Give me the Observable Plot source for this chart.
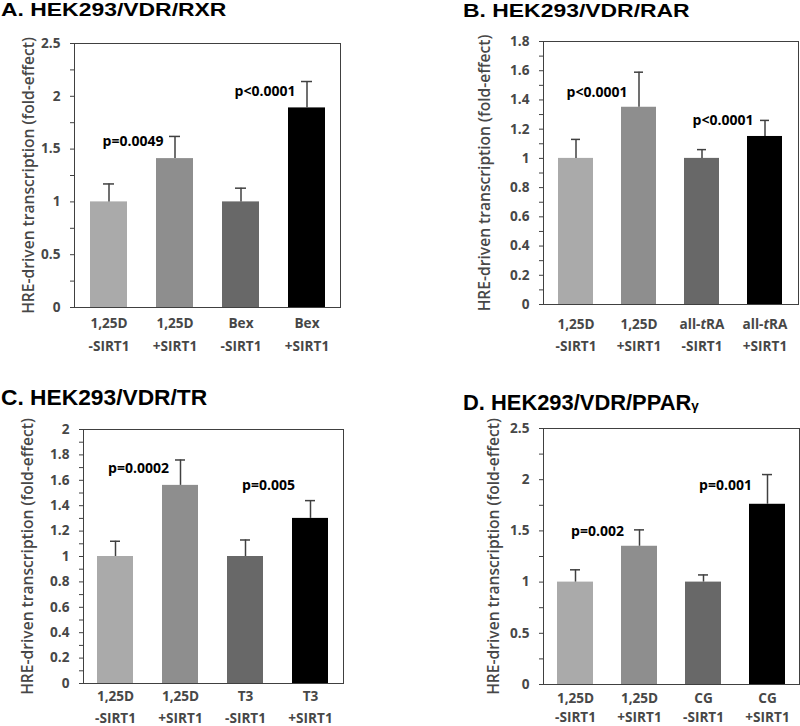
<!DOCTYPE html>
<html>
<head>
<meta charset="utf-8">
<script src="https://cdn.jsdelivr.net/npm/d3@7"></script>
<script src="https://cdn.jsdelivr.net/npm/@observablehq/plot@0.6"></script>
<style>
  html, body { margin: 0; padding: 0; background: #fff; }
  #root { position: relative; width: 800px; height: 726px; overflow: hidden; background: #fff; }
  .title { position: absolute; font-family: "Liberation Sans", Arial, sans-serif; font-weight: 700; color: #000; line-height: 1; white-space: nowrap; transform-origin: 0 0; }
  .panel { position: absolute; }
  .panel svg { overflow: visible; }
</style>
</head>
<body>
<div id="root"></div>
<script>
// ---------- data ----------
const sirt = ["-SIRT1", "+SIRT1", "-SIRT1", "+SIRT1"];
const barColors = ["#aaaaaa", "#8e8e8e", "#686868", "#000000"];
const yTitle = "HRE-driven transcription (fold-effect)";

const titleA = "A. HEK293/VDR/RXR";
const drugA = ["1,25D", "1,25D", "Bex", "Bex"];
const meanA = [1.00, 1.41, 1.00, 1.89];
const errA  = [0.17, 0.21, 0.13, 0.25];
const pTextA = ["p=0.0049", "p<0.0001"];
const pBarA = [1, 3];
const pYA = [1.57, 2.05];
const ticksA = [0, 0.5, 1, 1.5, 2, 2.5];
const minorA = [0.25, 0.75, 1.25, 1.75, 2.25];

const titleB = "B. HEK293/VDR/RAR";
const drugB = ["1,25D", "1,25D", "all-tRA", "all-tRA"];
const meanB = [1.00, 1.35, 1.00, 1.15];
const errB  = [0.13, 0.24, 0.06, 0.11];
const pTextB = ["p<0.0001", "p<0.0001"];
const pBarB = [1, 3];
const pYB = [1.45, 1.26];
const ticksB = [0, 0.2, 0.4, 0.6, 0.8, 1, 1.2, 1.4, 1.6, 1.8];
const minorB = [0.1, 0.3, 0.5, 0.7, 0.9, 1.1, 1.3, 1.5, 1.7];

const titleC = "C. HEK293/VDR/TR";
const drugC = ["1,25D", "1,25D", "T3", "T3"];
const meanC = [1.00, 1.56, 1.00, 1.30];
const errC  = [0.12, 0.20, 0.13, 0.14];
const pTextC = ["p=0.0002", "p=0.005"];
const pBarC = [1, 3];
const pYC = [1.69, 1.56];
const ticksC = [0, 0.2, 0.4, 0.6, 0.8, 1, 1.2, 1.4, 1.6, 1.8, 2];
const minorC = [0.1, 0.3, 0.5, 0.7, 0.9, 1.1, 1.3, 1.5, 1.7, 1.9];

const titleD = "D. HEK293/VDR/PPAR";
const titleDsuffix = "γ";
const drugD = ["1,25D", "1,25D", "CG", "CG"];
const meanD = [1.00, 1.35, 1.00, 1.76];
const errD  = [0.12, 0.16, 0.07, 0.29];
const pTextD = ["p=0.002", "p=0.001"];
const pBarD = [1, 3];
const pYD = [1.49, 1.94];
const ticksD = [0, 0.5, 1, 1.5, 2, 2.5];
const minorD = [0.25, 0.75, 1.25, 1.75, 2.25];

// ---------- drawing ----------
const root = document.getElementById("root");
const FONT = "'Open Sans', Lato, sans-serif";
const GRAY = "#474747";
const TICK_FS = 13.6;

function makePanel(cfg) {
  const keys = cfg.drug.map((d, i) => d + "\n" + sirt[i]);
  const rows = keys.map((k, i) => ({key: k, mean: cfg.mean[i], err: cfg.err[i], color: barColors[i]}));
  const pRows = cfg.pText.map((t, i) => ({key: keys[cfg.pBar[i]], y: cfg.pY[i], text: t}));
  const svg = Plot.plot({
    width: cfg.w, height: cfg.h,
    marginLeft: cfg.m[0], marginRight: cfg.m[1], marginTop: cfg.m[2], marginBottom: cfg.m[3],
    style: {fontFamily: FONT, fontSize: TICK_FS + "px", color: GRAY, background: "transparent", overflow: "visible"},
    x: {type: "band", domain: keys, paddingInner: 0.44, paddingOuter: 0.22, axis: null},
    y: {domain: [0, cfg.ticks[cfg.ticks.length - 1]], axis: null},
    marks: [
      Plot.barY(rows, {x: "key", y: "mean", fill: "color"}),
      Plot.ruleX(rows, {x: "key", y1: "mean", y2: d => d.mean + d.err, stroke: "#404040", strokeWidth: 1.5}),
      Plot.tickY(rows, {x: "key", y: d => d.mean + d.err, stroke: "#404040", strokeWidth: 1.5, insetLeft: 13, insetRight: 13}),
      Plot.frame({stroke: "#404040", strokeWidth: 1}),
      Plot.axisY({ticks: cfg.ticks, tickSize: 4, tickPadding: 10, label: null, tickFormat: d => String(d),
        fontWeight: 700, fontSize: TICK_FS, fill: GRAY, stroke: "#404040"}),
      Plot.axisY({ticks: cfg.minor, tickSize: 4, tickFormat: () => "", label: null, stroke: "#404040"}),
      Plot.axisX({tickSize: 0, tickPadding: cfg.xPad, lineHeight: cfg.lh, label: null, fontWeight: 700, fontSize: TICK_FS,
        fill: GRAY, tickFormat: d => d}),
      Plot.text([yTitle], {frameAnchor: "left", text: d => d, rotate: -90, dx: cfg.yDx, textAnchor: "middle",
        fontSize: 15.6, fontWeight: 600, fill: GRAY}),
      Plot.text(pRows, {x: "key", y: "y", text: "text", dx: -42, fontSize: 14, fontWeight: 700, fill: "#000"})
    ]
  });
  // italic "t" in all-tRA
  svg.querySelectorAll("tspan, text").forEach(el => {
    if (el.childNodes.length === 1 && el.firstChild.nodeType === 3 && el.textContent === "all-tRA") {
      el.textContent = "all-";
      const it = document.createElementNS("http://www.w3.org/2000/svg", "tspan");
      it.setAttribute("font-style", "italic");
      it.textContent = "t";
      el.appendChild(it);
      el.appendChild(document.createTextNode("RA"));
    }
  });
  const div = document.createElement("div");
  div.className = "panel";
  div.style.left = cfg.left + "px";
  div.style.top = cfg.top + "px";
  div.appendChild(svg);
  root.appendChild(div);

  const t = document.createElement("div");
  t.className = "title";
  t.style.left = cfg.tLeft + "px";
  t.style.top = cfg.tTop + "px";
  t.style.fontSize = cfg.tSize + "px";
  t.style.transform = "scaleX(" + cfg.tScale + ")";
  t.textContent = cfg.title;
  if (cfg.suffix) {
    const s = document.createElement("span");
    s.style.fontSize = "0.62em";
    s.textContent = cfg.suffix;
    t.appendChild(s);
  }
  root.appendChild(t);
}

makePanel({left: 0, top: 30, w: 400, h: 330, m: [74, 60, 13, 53], drug: drugA, mean: meanA, err: errA,
  pText: pTextA, pBar: pBarA, pY: pYA, ticks: ticksA, minor: minorA, xPad: 4, lh: 1.68, yDx: -46,
  title: titleA, tLeft: 1, tTop: 1, tSize: 18.2, tScale: 1.26});
makePanel({left: 400, top: 30, w: 400, h: 330, m: [143, 2, 11, 56], drug: drugB, mean: meanB, err: errB,
  pText: pTextB, pBar: pBarB, pY: pYB, ticks: ticksB, minor: minorB, xPad: 8, lh: 1.66, yDx: -59,
  title: titleB, tLeft: 463, tTop: 1.5, tSize: 18.2, tScale: 1.26});
makePanel({left: 0, top: 400, w: 400, h: 326, m: [83, 57, 29, 43], drug: drugC, mean: meanC, err: errC,
  pText: pTextC, pBar: pBarC, pY: pYC, ticks: ticksC, minor: minorC, xPad: 3, lh: 1.55, yDx: -56,
  title: titleC, tLeft: 1, tTop: 386.5, tSize: 21.9, tScale: 1.04});
makePanel({left: 400, top: 400, w: 400, h: 326, m: [143, 1, 28, 42], drug: drugD, mean: meanD, err: errD,
  pText: pTextD, pBar: pBarD, pY: pYD, ticks: ticksD, minor: minorD, xPad: 5, lh: 1.38, yDx: -50,
  title: titleD, suffix: titleDsuffix, tLeft: 463, tTop: 392, tSize: 21.9, tScale: 1.0});
</script>
</body>
</html>
